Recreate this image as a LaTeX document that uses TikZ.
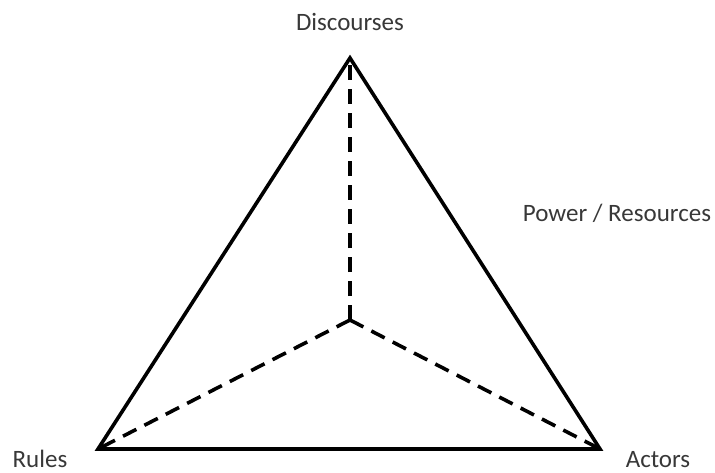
\documentclass[tikz,border=0pt]{standalone}
\usepackage{fontspec}
\setmainfont{Carlito}
\begin{document}
\begin{tikzpicture}[x=1pt,y=1pt,
  lbl/.style={text=black!78, font=\fontsize{25}{30}\selectfont, inner sep=0pt},
  edge/.style={line width=3.6pt, line join=miter},
  spoke/.style={line width=3.6pt, dash pattern=on 15pt off 9pt}]
\useasboundingbox (0,0) rectangle (715,472);
\coordinate (T) at (350,414);
\coordinate (L) at (98,23);
\coordinate (R) at (600,23);
\coordinate (C) at (350,152);
\draw[spoke] (C) -- (T);
\draw[spoke] (C) -- (L);
\draw[spoke] (C) -- (R);
\draw[edge] (T) -- (R) -- (L) -- cycle;
\node[lbl] (disc) at (350,450) {Discourses};
\node[lbl] (pow) at (617,259) {Power / Resources};
\node[lbl, anchor=base] (rules) at (40,5) {Rules};
\node[lbl, anchor=base] (act) at (658,5) {Actors};
\end{tikzpicture}
\end{document}
